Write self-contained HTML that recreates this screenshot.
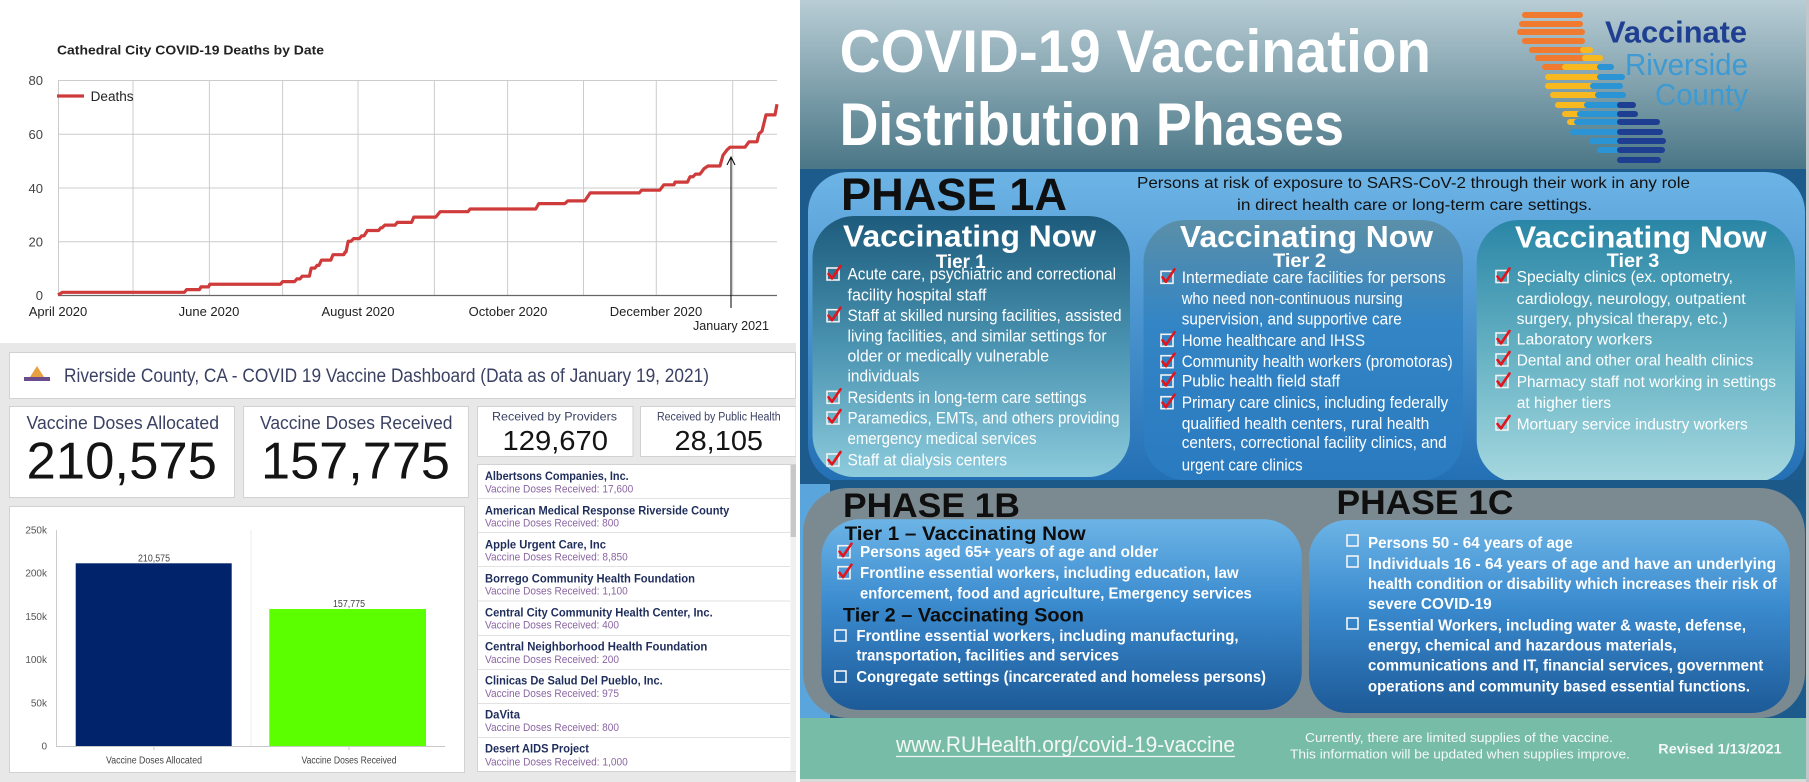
<!DOCTYPE html>
<html><head><meta charset="utf-8"><style>
html,body{margin:0;padding:0;background:#fff;overflow:hidden;}
svg{display:block;}
text{font-family:"Liberation Sans",sans-serif;}
</style></head><body>
<svg width="1809" height="782" viewBox="0 0 1809 782" xmlns="http://www.w3.org/2000/svg">
<defs>
<linearGradient id="gHead" x1="0" y1="0" x2="0" y2="1"><stop offset="0" stop-color="#b8cdd5"/><stop offset="1" stop-color="#4a7686"/></linearGradient>
<linearGradient id="g1A" x1="0" y1="0" x2="0" y2="1"><stop offset="0" stop-color="#6db4e6"/><stop offset="1" stop-color="#236fb4"/></linearGradient>
<linearGradient id="gT1" x1="0" y1="0" x2="0" y2="1"><stop offset="0" stop-color="#1d5b7c"/><stop offset="0.5" stop-color="#4a93b1"/><stop offset="1" stop-color="#8ccbdc"/></linearGradient>
<linearGradient id="gT2" x1="0" y1="0" x2="0" y2="1"><stop offset="0" stop-color="#5a8fa8"/><stop offset="0.4" stop-color="#3385c5"/><stop offset="1" stop-color="#2a7ac0"/></linearGradient>
<linearGradient id="gT3" x1="0" y1="0" x2="0" y2="1"><stop offset="0" stop-color="#2a86a6"/><stop offset="0.55" stop-color="#6bb5c6"/><stop offset="1" stop-color="#a6d8df"/></linearGradient>
<linearGradient id="gIn" x1="0" y1="0" x2="0" y2="1"><stop offset="0" stop-color="#6cb4e6"/><stop offset="0.45" stop-color="#3a8ace"/><stop offset="1" stop-color="#1d5a98"/></linearGradient>
<g id="ck"><rect x="0" y="0" width="12" height="12" fill="none" stroke="#f2f2f2" stroke-width="1.6"/><path d="M1.5,6 L5,10.5 L13.5,-2" fill="none" stroke="#e3141b" stroke-width="2.6" stroke-linejoin="round" stroke-linecap="round"/></g>
<g id="bx"><rect x="0" y="0" width="11" height="11" fill="none" stroke="#f4f4f4" stroke-width="1.6"/></g>
</defs>

<!-- ============ LEFT: DEATHS CHART ============ -->
<rect x="0" y="0" width="800" height="343" fill="#fff"/>
<text x="57" y="54.5" font-size="12.5" font-weight="bold" fill="#222" textLength="267" lengthAdjust="spacingAndGlyphs">Cathedral City COVID-19 Deaths by Date</text>
<g stroke="#cccccc" stroke-width="1">
<line x1="58" y1="80.5" x2="777" y2="80.5"/>
<line x1="58" y1="134.25" x2="777" y2="134.25"/>
<line x1="58" y1="188" x2="777" y2="188"/>
<line x1="58" y1="241.75" x2="777" y2="241.75"/>
<line x1="58.5" y1="80" x2="58.5" y2="295"/>
<line x1="133" y1="80" x2="133" y2="295"/>
<line x1="209.4" y1="80" x2="209.4" y2="295"/>
<line x1="282.6" y1="80" x2="282.6" y2="295"/>
<line x1="358" y1="80" x2="358" y2="295"/>
<line x1="434.4" y1="80" x2="434.4" y2="295"/>
<line x1="507.6" y1="80" x2="507.6" y2="295"/>
<line x1="583.5" y1="80" x2="583.5" y2="295"/>
<line x1="656.3" y1="80" x2="656.3" y2="295"/>
<line x1="732.7" y1="80" x2="732.7" y2="295"/>
</g>
<line x1="58" y1="295.5" x2="777" y2="295.5" stroke="#666" stroke-width="1.2"/>
<g font-size="13" fill="#444" text-anchor="end">
<text x="43" y="85">80</text>
<text x="43" y="139">60</text>
<text x="43" y="193">40</text>
<text x="43" y="246.5">20</text>
<text x="43" y="300">0</text>
</g>
<g font-size="13" fill="#222" text-anchor="middle">
<text x="58" y="316">April 2020</text>
<text x="209" y="316">June 2020</text>
<text x="358" y="316">August 2020</text>
<text x="508" y="316">October 2020</text>
<text x="656" y="316">December 2020</text>
<text x="731" y="330" textLength="76" lengthAdjust="spacingAndGlyphs">January 2021</text>
</g>
<line x1="57" y1="96" x2="84" y2="96" stroke="#cf3a3a" stroke-width="3.2"/>
<text x="90.6" y="101" font-size="13.5" fill="#222" textLength="43" lengthAdjust="spacingAndGlyphs">Deaths</text>
<path d="M58,295 L62.5,292.3 L184.4,292.3 L186.6,289.6 L199.6,289.6 L200.9,286.9 L208.5,286.9 L209.8,284.25 L280.4,284.25 L282.6,281.6 L294.6,281.6 L296.9,278.9 L300,278.9 L302.2,276.2 L309.4,276.2 L311.2,268.1 L315,268.1 L317,265.4 L319,265.4 L321.4,260.1 L330.8,260.1 L333,254.7 L343.8,254.7 L345.1,252 L346,252 L348.2,241.25 L351,241.25 L353.6,238.6 L359.4,238.6 L361.6,235.9 L364,235.9 L367.4,230.5 L378.6,230.5 L380.8,227.8 L382,227.8 L384.8,225.1 L395.1,225.1 L397.3,222.4 L411.6,222.4 L413.8,217.1 L435.7,217.1 L440.2,211.7 L467.9,211.7 L470.1,209 L535.7,209 L538.8,203.6 L564.7,203.6 L567.9,200.9 L584.8,200.9 L590.2,192.9 L639.3,192.9 L641.5,190.2 L659.8,190.2 L663.8,184.8 L674,184.8 L675,182.1 L687.5,182.1 L690,176.75 L693,176.75 L695.5,174.1 L700,174.1 L702,171.4 L704,168.7 L708,166 L720,166 L723,155.25 L727,149.9 L730,147.2 L745,147.2 L749,141.8 L757,141.8 L759,133.75 L762,131.1 L766,114.9 L775,114.9 L777,104.2" fill="none" stroke="#cf3a3a" stroke-width="3.2" stroke-linejoin="round"/>
<line x1="731" y1="158" x2="731" y2="308" stroke="#000" stroke-width="1"/>
<path d="M727,165 L731,157 L735,165" fill="none" stroke="#000" stroke-width="1"/>

<!-- ============ LEFT: DASHBOARD ============ -->
<rect x="0" y="343" width="800" height="439" fill="#e8e8e8"/>
<rect x="9.5" y="352.5" width="786" height="46" fill="#fff" stroke="#d2d2d2"/>
<polygon points="30,377 37,366 44,377" fill="#e8a040"/>
<rect x="24" y="377" width="26" height="4" fill="#6b4c8c"/>
<text x="64" y="382" font-size="19" fill="#3b4163" textLength="645" lengthAdjust="spacingAndGlyphs">Riverside County, CA - COVID 19 Vaccine Dashboard (Data as of January 19, 2021)</text>

<rect x="9.5" y="406.5" width="225" height="91" fill="#fff" stroke="#d2d2d2"/>
<rect x="243.5" y="406.5" width="225" height="91" fill="#fff" stroke="#d2d2d2"/>
<rect x="477.5" y="406.5" width="155.5" height="50" fill="#fff" stroke="#d2d2d2"/>
<rect x="640.5" y="406.5" width="155.5" height="50" fill="#fff" stroke="#d2d2d2"/>
<text x="26.5" y="429" font-size="18" fill="#3b4163" textLength="192.5" lengthAdjust="spacingAndGlyphs">Vaccine Doses Allocated</text>
<text x="26.5" y="478.5" font-size="51.5" fill="#141414" textLength="190.5" lengthAdjust="spacingAndGlyphs">210,575</text>
<text x="260" y="429" font-size="18" fill="#3b4163" textLength="192.5" lengthAdjust="spacingAndGlyphs">Vaccine Doses Received</text>
<text x="261" y="478.5" font-size="51.5" fill="#141414" textLength="189" lengthAdjust="spacingAndGlyphs">157,775</text>
<text x="492" y="420.5" font-size="12" fill="#3b4163" textLength="125" lengthAdjust="spacingAndGlyphs">Received by Providers</text>
<text x="502.5" y="450" font-size="28" fill="#141414" textLength="105.5" lengthAdjust="spacingAndGlyphs">129,670</text>
<text x="657" y="420.5" font-size="11.5" fill="#3b4163" textLength="123.6" lengthAdjust="spacingAndGlyphs">Received by Public Health</text>
<text x="674.5" y="450" font-size="28" fill="#141414" textLength="88.5" lengthAdjust="spacingAndGlyphs">28,105</text>

<!-- list -->
<rect x="477.5" y="464.5" width="319" height="307" fill="#fff" stroke="#d2d2d2"/>
<rect x="790.5" y="465" width="6" height="306" fill="#f0f0f0"/>
<rect x="790.5" y="465" width="6" height="72" fill="#c8c8c8"/>
<g stroke="#e2e2e2" stroke-width="1">
<line x1="478" y1="498.5" x2="790" y2="498.5"/>
<line x1="478" y1="532.5" x2="790" y2="532.5"/>
<line x1="478" y1="566.5" x2="790" y2="566.5"/>
<line x1="478" y1="601" x2="790" y2="601"/>
<line x1="478" y1="635.5" x2="790" y2="635.5"/>
<line x1="478" y1="669.5" x2="790" y2="669.5"/>
<line x1="478" y1="703.5" x2="790" y2="703.5"/>
<line x1="478" y1="737.5" x2="790" y2="737.5"/>
</g>
<g font-size="12" font-weight="bold" fill="#1f2d5c">
<text x="485" y="480" textLength="143.7" lengthAdjust="spacingAndGlyphs">Albertsons Companies, Inc.</text>
<text x="485" y="514.3" textLength="244.3" lengthAdjust="spacingAndGlyphs">American Medical Response Riverside County</text>
<text x="485" y="548.3" textLength="121" lengthAdjust="spacingAndGlyphs">Apple Urgent Care, Inc</text>
<text x="485" y="582.3" textLength="210" lengthAdjust="spacingAndGlyphs">Borrego Community Health Foundation</text>
<text x="485" y="616.6" textLength="227.7" lengthAdjust="spacingAndGlyphs">Central City Community Health Center, Inc.</text>
<text x="485" y="650.3" textLength="222.3" lengthAdjust="spacingAndGlyphs">Central Neighborhood Health Foundation</text>
<text x="485" y="684.6" textLength="177.7" lengthAdjust="spacingAndGlyphs">Clinicas De Salud Del Pueblo, Inc.</text>
<text x="485" y="718.6" textLength="35" lengthAdjust="spacingAndGlyphs">DaVita</text>
<text x="485" y="752.6" textLength="104" lengthAdjust="spacingAndGlyphs">Desert AIDS Project</text>
</g>
<g font-size="11" fill="#8b65a3">
<text x="485" y="492.3" textLength="148.3" lengthAdjust="spacingAndGlyphs">Vaccine Doses Received: 17,600</text>
<text x="485" y="526.3" textLength="134" lengthAdjust="spacingAndGlyphs">Vaccine Doses Received: 800</text>
<text x="485" y="560.7" textLength="142.7" lengthAdjust="spacingAndGlyphs">Vaccine Doses Received: 8,850</text>
<text x="485" y="594.7" textLength="142.7" lengthAdjust="spacingAndGlyphs">Vaccine Doses Received: 1,100</text>
<text x="485" y="628.7" textLength="134" lengthAdjust="spacingAndGlyphs">Vaccine Doses Received: 400</text>
<text x="485" y="663" textLength="134" lengthAdjust="spacingAndGlyphs">Vaccine Doses Received: 200</text>
<text x="485" y="697" textLength="134" lengthAdjust="spacingAndGlyphs">Vaccine Doses Received: 975</text>
<text x="485" y="731" textLength="134" lengthAdjust="spacingAndGlyphs">Vaccine Doses Received: 800</text>
<text x="485" y="765.3" textLength="142.7" lengthAdjust="spacingAndGlyphs">Vaccine Doses Received: 1,000</text>
</g>

<!-- bar chart -->
<rect x="9.5" y="506.5" width="455" height="266" fill="#fff" stroke="#d2d2d2"/>
<line x1="56.5" y1="530" x2="56.5" y2="746" stroke="#cccccc"/>
<line x1="251" y1="530" x2="251" y2="746" stroke="#ececec"/>
<rect x="75.7" y="563.3" width="156" height="182.7" fill="#00236b"/>
<rect x="269.3" y="609" width="156.7" height="137" fill="#5bff00"/>
<line x1="56" y1="746.5" x2="445" y2="746.5" stroke="#c8c8c8"/>
<line x1="154" y1="746" x2="154" y2="750" stroke="#c8c8c8"/>
<line x1="349" y1="746" x2="349" y2="750" stroke="#c8c8c8"/>
<g font-size="10" fill="#555" text-anchor="end">
<text x="47" y="533.5">250k</text>
<text x="47" y="576.7">200k</text>
<text x="47" y="620">150k</text>
<text x="47" y="663.2">100k</text>
<text x="47" y="706.3">50k</text>
<text x="47" y="749.5">0</text>
</g>
<g font-size="10" fill="#444" text-anchor="middle">
<text x="154" y="561.3" textLength="32" lengthAdjust="spacingAndGlyphs">210,575</text>
<text x="349" y="607.2" textLength="32" lengthAdjust="spacingAndGlyphs">157,775</text>
<text x="154" y="763.5" textLength="96" lengthAdjust="spacingAndGlyphs">Vaccine Doses Allocated</text>
<text x="349" y="763.5" textLength="95" lengthAdjust="spacingAndGlyphs">Vaccine Doses Received</text>
</g>
<rect x="796" y="0" width="4" height="782" fill="#fff"/>

<!-- ============ RIGHT: INFOGRAPHIC ============ -->
<rect x="800" y="0" width="1009" height="782" fill="#1d5b8c"/>
<rect x="800" y="0" width="1009" height="169" fill="url(#gHead)"/>
<text x="839.6" y="72" font-size="60" font-weight="bold" fill="#fff" textLength="591.4" lengthAdjust="spacingAndGlyphs">COVID-19 Vaccination</text>
<text x="839.6" y="145" font-size="60" font-weight="bold" fill="#fff" textLength="504.4" lengthAdjust="spacingAndGlyphs">Distribution Phases</text>

<!-- logo stripes -->
<g stroke-linecap="round" stroke-width="6" fill="none">
<line x1="1525" y1="15" x2="1580" y2="15" stroke="#f07a30"/>
<line x1="1522" y1="24" x2="1580" y2="24" stroke="#f07a30"/>
<line x1="1520" y1="32" x2="1582" y2="32" stroke="#f07a30"/>
<line x1="1525" y1="41" x2="1582" y2="41" stroke="#f07a30"/>
<line x1="1532" y1="50" x2="1583" y2="50" stroke="#f07a30"/>
<line x1="1583" y1="50" x2="1590" y2="50" stroke="#f8b820"/>
<line x1="1538" y1="58" x2="1585" y2="58" stroke="#f07a30"/>
<line x1="1585" y1="58" x2="1600" y2="58" stroke="#f8b820"/>
<line x1="1545" y1="67" x2="1565" y2="67" stroke="#f07a30"/>
<line x1="1565" y1="67" x2="1600" y2="67" stroke="#f8b820"/>
<line x1="1600" y1="67" x2="1611" y2="67" stroke="#2a94d4"/>
<line x1="1548" y1="77" x2="1600" y2="77" stroke="#f8b820"/>
<line x1="1600" y1="77" x2="1622" y2="77" stroke="#2a94d4"/>
<line x1="1548" y1="86" x2="1593" y2="86" stroke="#f8b820"/>
<line x1="1593" y1="86" x2="1620" y2="86" stroke="#2a94d4"/>
<line x1="1553" y1="95" x2="1598" y2="95" stroke="#f8b820"/>
<line x1="1598" y1="95" x2="1623" y2="95" stroke="#2a94d4"/>
<line x1="1558" y1="105" x2="1587" y2="105" stroke="#f8b820"/>
<line x1="1587" y1="105" x2="1620" y2="105" stroke="#2a94d4"/>
<line x1="1620" y1="105" x2="1633" y2="105" stroke="#1e3e92"/>
<line x1="1565" y1="114" x2="1580" y2="114" stroke="#f8b820"/>
<line x1="1580" y1="114" x2="1620" y2="114" stroke="#2a94d4"/>
<line x1="1620" y1="114" x2="1635" y2="114" stroke="#1e3e92"/>
<line x1="1570" y1="122" x2="1577" y2="122" stroke="#f8b820"/>
<line x1="1577" y1="122" x2="1620" y2="122" stroke="#2a94d4"/>
<line x1="1620" y1="122" x2="1657" y2="122" stroke="#1e3e92"/>
<line x1="1573" y1="132" x2="1620" y2="132" stroke="#2a94d4"/>
<line x1="1620" y1="132" x2="1660" y2="132" stroke="#1e3e92"/>
<line x1="1592" y1="141" x2="1620" y2="141" stroke="#2a94d4"/>
<line x1="1620" y1="141" x2="1663" y2="141" stroke="#1e3e92"/>
<line x1="1600" y1="150" x2="1620" y2="150" stroke="#2a94d4"/>
<line x1="1620" y1="150" x2="1662" y2="150" stroke="#1e3e92"/>
<line x1="1620" y1="160" x2="1658" y2="160" stroke="#1e3e92"/>
</g>
<text x="1605" y="42.5" font-size="31" font-weight="bold" fill="#1f3f93" textLength="142" lengthAdjust="spacingAndGlyphs">Vaccinate</text>
<text x="1625" y="75" font-size="31" fill="#3d9ad3" textLength="123" lengthAdjust="spacingAndGlyphs">Riverside</text>
<text x="1655" y="105" font-size="31" fill="#3d9ad3" textLength="93" lengthAdjust="spacingAndGlyphs">County</text>

<!-- Phase 1A -->
<rect x="808" y="172" width="997" height="312" rx="40" fill="url(#g1A)"/>
<text x="841" y="210" font-size="45" font-weight="bold" fill="#0f0f0f" textLength="226" lengthAdjust="spacingAndGlyphs">PHASE 1A</text>
<text x="1137" y="188" font-size="16" fill="#111" textLength="553" lengthAdjust="spacingAndGlyphs">Persons at risk of exposure to SARS-CoV-2 through their work in any role</text>
<text x="1237" y="210" font-size="16" fill="#111" textLength="355" lengthAdjust="spacingAndGlyphs">in direct health care or long-term care settings.</text>

<rect x="812.5" y="216" width="317.5" height="261" rx="42" fill="url(#gT1)"/>
<rect x="1143.5" y="220" width="319.5" height="260" rx="42" fill="url(#gT2)"/>
<rect x="1476.7" y="220" width="318.3" height="262.5" rx="42" fill="url(#gT3)"/>

<g font-weight="bold" fill="#fff">
<text x="843" y="246.7" font-size="31" textLength="253" lengthAdjust="spacingAndGlyphs">Vaccinating Now</text>
<text x="1180" y="247" font-size="31" textLength="253" lengthAdjust="spacingAndGlyphs">Vaccinating Now</text>
<text x="1515" y="247.5" font-size="31" textLength="251.7" lengthAdjust="spacingAndGlyphs">Vaccinating Now</text>
<text x="935.7" y="268" font-size="19" textLength="50" lengthAdjust="spacingAndGlyphs">Tier 1</text>
<text x="1273" y="267" font-size="19" textLength="53" lengthAdjust="spacingAndGlyphs">Tier 2</text>
<text x="1606.7" y="267" font-size="19" textLength="52.6" lengthAdjust="spacingAndGlyphs">Tier 3</text>
</g>

<g font-size="17" fill="#fff">
<text x="847.5" y="279.5" textLength="268.5" lengthAdjust="spacingAndGlyphs">Acute care, psychiatric and correctional</text>
<text x="847.5" y="300.5" textLength="139" lengthAdjust="spacingAndGlyphs">facility hospital staff</text>
<text x="847.5" y="321" textLength="274" lengthAdjust="spacingAndGlyphs">Staff at skilled nursing facilities, assisted</text>
<text x="847.5" y="341.5" textLength="259" lengthAdjust="spacingAndGlyphs">living facilities, and similar settings for</text>
<text x="847.5" y="361.5" textLength="201.5" lengthAdjust="spacingAndGlyphs">older or medically vulnerable</text>
<text x="847.5" y="381.5" textLength="72" lengthAdjust="spacingAndGlyphs">individuals</text>
<text x="847.5" y="402.8" textLength="239" lengthAdjust="spacingAndGlyphs">Residents in long-term care settings</text>
<text x="847.5" y="423.5" textLength="272" lengthAdjust="spacingAndGlyphs">Paramedics, EMTs, and others providing</text>
<text x="847.5" y="444" textLength="189" lengthAdjust="spacingAndGlyphs">emergency medical services</text>
<text x="847.5" y="465.5" textLength="159.5" lengthAdjust="spacingAndGlyphs">Staff at dialysis centers</text>

<text x="1181.7" y="282.8" textLength="264" lengthAdjust="spacingAndGlyphs">Intermediate care facilities for persons</text>
<text x="1181.7" y="303.8" textLength="221" lengthAdjust="spacingAndGlyphs">who need non-continuous nursing</text>
<text x="1181.7" y="324.5" textLength="220" lengthAdjust="spacingAndGlyphs">supervision, and supportive care</text>
<text x="1181.7" y="345.8" textLength="183.3" lengthAdjust="spacingAndGlyphs">Home healthcare and IHSS</text>
<text x="1181.7" y="367.2" textLength="271" lengthAdjust="spacingAndGlyphs">Community health workers (promotoras)</text>
<text x="1181.7" y="386.5" textLength="158.3" lengthAdjust="spacingAndGlyphs">Public health field staff</text>
<text x="1181.7" y="408.2" textLength="266.6" lengthAdjust="spacingAndGlyphs">Primary care clinics, including federally</text>
<text x="1181.7" y="428.8" textLength="247.6" lengthAdjust="spacingAndGlyphs">qualified health centers, rural health</text>
<text x="1181.7" y="448.2" textLength="265" lengthAdjust="spacingAndGlyphs">centers, correctional facility clinics, and</text>
<text x="1181.7" y="470.5" textLength="121" lengthAdjust="spacingAndGlyphs">urgent care clinics</text>
</g>
<g font-size="15.5" fill="#fff">
<text x="1516.7" y="282" textLength="216.3" lengthAdjust="spacingAndGlyphs">Specialty clinics (ex. optometry,</text>
<text x="1516.7" y="304" textLength="229" lengthAdjust="spacingAndGlyphs">cardiology, neurology, outpatient</text>
<text x="1516.7" y="324" textLength="211" lengthAdjust="spacingAndGlyphs">surgery, physical therapy, etc.)</text>
<text x="1516.7" y="344.5" textLength="135.6" lengthAdjust="spacingAndGlyphs">Laboratory workers</text>
<text x="1516.7" y="365.5" textLength="236.6" lengthAdjust="spacingAndGlyphs">Dental and other oral health clinics</text>
<text x="1516.7" y="387" textLength="259.3" lengthAdjust="spacingAndGlyphs">Pharmacy staff not working in settings</text>
<text x="1516.7" y="408" textLength="94.3" lengthAdjust="spacingAndGlyphs">at higher tiers</text>
<text x="1516.7" y="429.5" textLength="231" lengthAdjust="spacingAndGlyphs">Mortuary service industry workers</text>
</g>
<use href="#ck" x="827" y="268"/>
<use href="#ck" x="827" y="309.7"/>
<use href="#ck" x="827" y="391.3"/>
<use href="#ck" x="827" y="412"/>
<use href="#ck" x="827" y="454"/>
<use href="#ck" x="1161" y="271.3"/>
<use href="#ck" x="1161" y="334.3"/>
<use href="#ck" x="1161" y="355.7"/>
<use href="#ck" x="1161" y="375"/>
<use href="#ck" x="1161" y="396.7"/>
<use href="#ck" x="1496" y="270.5"/>
<use href="#ck" x="1496" y="333"/>
<use href="#ck" x="1496" y="354"/>
<use href="#ck" x="1496" y="375.5"/>
<use href="#ck" x="1496" y="418"/>

<!-- Phase 1B / 1C -->
<rect x="800" y="484" width="30" height="234" fill="#5aa5dc"/>
<rect x="830" y="480" width="979" height="20" fill="#1d5988"/>
<rect x="803" y="488" width="1002" height="230" rx="45" fill="#7b8a90"/>
<text x="843" y="517" font-size="34" font-weight="bold" fill="#0f0f0f" textLength="177" lengthAdjust="spacingAndGlyphs">PHASE 1B</text>
<text x="1336.5" y="514" font-size="34" font-weight="bold" fill="#0f0f0f" textLength="177" lengthAdjust="spacingAndGlyphs">PHASE 1C</text>
<rect x="821.4" y="519.3" width="480.4" height="190.7" rx="38" fill="url(#gIn)"/>
<rect x="1309" y="520" width="481" height="193" rx="38" fill="url(#gIn)"/>

<g font-weight="bold" font-size="19" fill="#0d0d0d">
<text x="844.6" y="540" textLength="241" lengthAdjust="spacingAndGlyphs">Tier 1 – Vaccinating Now</text>
<text x="842.9" y="621.5" textLength="241" lengthAdjust="spacingAndGlyphs">Tier 2 – Vaccinating Soon</text>
</g>
<g font-weight="bold" font-size="15.5" fill="#fff">
<text x="860" y="557" textLength="298.2" lengthAdjust="spacingAndGlyphs">Persons aged 65+ years of age and older</text>
<text x="860" y="578" textLength="378.6" lengthAdjust="spacingAndGlyphs">Frontline essential workers, including education, law</text>
<text x="860" y="598.6" textLength="391.8" lengthAdjust="spacingAndGlyphs">enforcement, food and agriculture, Emergency services</text>
<text x="856.4" y="641" textLength="382.2" lengthAdjust="spacingAndGlyphs">Frontline essential workers, including manufacturing,</text>
<text x="856.4" y="660.3" textLength="262.6" lengthAdjust="spacingAndGlyphs">transportation, facilities and services</text>
<text x="856.4" y="682" textLength="409.6" lengthAdjust="spacingAndGlyphs">Congregate settings (incarcerated and homeless persons)</text>
</g>
<g font-weight="bold" font-size="16" fill="#fff">
<text x="1368" y="547.8" textLength="204.7" lengthAdjust="spacingAndGlyphs">Persons 50 - 64 years of age</text>
<text x="1368" y="568.8" textLength="408" lengthAdjust="spacingAndGlyphs">Individuals 16 - 64 years of age and have an underlying</text>
<text x="1368" y="588.8" textLength="408.7" lengthAdjust="spacingAndGlyphs">health condition or disability which increases their risk of</text>
<text x="1368" y="608.8" textLength="123.7" lengthAdjust="spacingAndGlyphs">severe COVID-19</text>
<text x="1368" y="630.3" textLength="378" lengthAdjust="spacingAndGlyphs">Essential Workers, including water &amp; waste, defense,</text>
<text x="1368" y="650.3" textLength="308.7" lengthAdjust="spacingAndGlyphs">energy, chemical and hazardous materials,</text>
<text x="1368" y="670.3" textLength="395.3" lengthAdjust="spacingAndGlyphs">communications and IT, financial services, government</text>
<text x="1368" y="691.3" textLength="382" lengthAdjust="spacingAndGlyphs">operations and community based essential functions.</text>
</g>
<use href="#ck" x="838" y="545.7"/>
<use href="#ck" x="838" y="566.7"/>
<use href="#bx" x="835" y="630"/>
<use href="#bx" x="835" y="671"/>
<use href="#bx" x="1347" y="535"/>
<use href="#bx" x="1347" y="556"/>
<use href="#bx" x="1347" y="618"/>

<!-- footer -->
<rect x="800" y="718" width="1009" height="61" fill="#77bca7"/>
<rect x="800" y="779" width="1009" height="3" fill="#d8dcd8"/>
<text x="896" y="752" font-size="22" fill="#f4f8f4" textLength="339" lengthAdjust="spacingAndGlyphs">www.RUHealth.org/covid-19-vaccine</text>
<line x1="896" y1="756.5" x2="1235" y2="756.5" stroke="#f0f4f0" stroke-width="1.3"/>
<text x="1305" y="742" font-size="12.5" fill="#f4f8f8" textLength="308" lengthAdjust="spacingAndGlyphs">Currently, there are limited supplies of the vaccine.</text>
<text x="1290" y="758.5" font-size="12.5" fill="#f4f8f8" textLength="340" lengthAdjust="spacingAndGlyphs">This information will be updated when supplies improve.</text>
<text x="1658.3" y="753.5" font-size="13.5" font-weight="bold" fill="#f4f8f8" textLength="123.4" lengthAdjust="spacingAndGlyphs">Revised 1/13/2021</text>
<rect x="1806" y="0" width="3" height="782" fill="#c0c8cc"/>
</svg>
</body></html>
